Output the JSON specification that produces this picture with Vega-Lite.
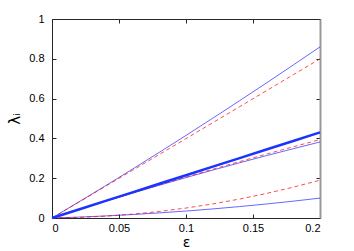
{
  "$schema": "https://vega.github.io/schema/vega-lite/v6.json",
  "width": 268,
  "height": 199,
  "autosize": {"type": "none"},
  "padding": {"left": 52, "top": 19, "right": 34, "bottom": 33},
  "background": "white",
  "config": {
    "view": {"stroke": null},
    "font": "Liberation Sans",
    "axis": {
      "grid": false,
      "domainColor": "#262626",
      "domainWidth": 1,
      "tickColor": "#262626",
      "tickSize": -4,
      "labelFont": "Liberation Sans",
      "labelFontSize": 11,
      "labelColor": "#000000",
      "titleFont": "DejaVu Sans",
      "titleFontWeight": "normal",
      "titleColor": "#000000"
    }
  },
  "data": {
    "values": [
      {"s": "A", "x": 0, "y": 0}, {"s": "A", "x": 0.02, "y": 0.0806}, {"s": "A", "x": 0.04, "y": 0.1624}, {"s": "A", "x": 0.06, "y": 0.2454}, {"s": "A", "x": 0.08, "y": 0.3296}, {"s": "A", "x": 0.1, "y": 0.415}, {"s": "A", "x": 0.12, "y": 0.5016}, {"s": "A", "x": 0.14, "y": 0.5894}, {"s": "A", "x": 0.16, "y": 0.6784}, {"s": "A", "x": 0.18, "y": 0.7686}, {"s": "A", "x": 0.2, "y": 0.86},
      {"s": "B", "x": 0, "y": 0}, {"s": "B", "x": 0.02, "y": 0.0796}, {"s": "B", "x": 0.04, "y": 0.1594}, {"s": "B", "x": 0.06, "y": 0.2392}, {"s": "B", "x": 0.08, "y": 0.319}, {"s": "B", "x": 0.1, "y": 0.399}, {"s": "B", "x": 0.12, "y": 0.479}, {"s": "B", "x": 0.14, "y": 0.5592}, {"s": "B", "x": 0.16, "y": 0.6394}, {"s": "B", "x": 0.18, "y": 0.7196}, {"s": "B", "x": 0.2, "y": 0.8},
      {"s": "C", "x": 0, "y": 0}, {"s": "C", "x": 0.02, "y": 0.043}, {"s": "C", "x": 0.04, "y": 0.086}, {"s": "C", "x": 0.06, "y": 0.129}, {"s": "C", "x": 0.08, "y": 0.172}, {"s": "C", "x": 0.1, "y": 0.215}, {"s": "C", "x": 0.12, "y": 0.258}, {"s": "C", "x": 0.14, "y": 0.301}, {"s": "C", "x": 0.16, "y": 0.344}, {"s": "C", "x": 0.18, "y": 0.387}, {"s": "C", "x": 0.2, "y": 0.43},
      {"s": "D", "x": 0, "y": 0}, {"s": "D", "x": 0.02, "y": 0.0425}, {"s": "D", "x": 0.04, "y": 0.0841}, {"s": "D", "x": 0.06, "y": 0.1247}, {"s": "D", "x": 0.08, "y": 0.1643}, {"s": "D", "x": 0.1, "y": 0.203}, {"s": "D", "x": 0.12, "y": 0.2407}, {"s": "D", "x": 0.14, "y": 0.2775}, {"s": "D", "x": 0.16, "y": 0.3133}, {"s": "D", "x": 0.18, "y": 0.3481}, {"s": "D", "x": 0.2, "y": 0.382},
      {"s": "E", "x": 0, "y": 0}, {"s": "E", "x": 0.02, "y": 0.0426}, {"s": "E", "x": 0.04, "y": 0.0846}, {"s": "E", "x": 0.06, "y": 0.1258}, {"s": "E", "x": 0.08, "y": 0.1662}, {"s": "E", "x": 0.1, "y": 0.206}, {"s": "E", "x": 0.12, "y": 0.245}, {"s": "E", "x": 0.14, "y": 0.2834}, {"s": "E", "x": 0.16, "y": 0.321}, {"s": "E", "x": 0.18, "y": 0.3578}, {"s": "E", "x": 0.2, "y": 0.394},
      {"s": "F", "x": 0, "y": 0}, {"s": "F", "x": 0.02, "y": 0.0028}, {"s": "F", "x": 0.04, "y": 0.0092}, {"s": "F", "x": 0.06, "y": 0.0192}, {"s": "F", "x": 0.08, "y": 0.0328}, {"s": "F", "x": 0.1, "y": 0.05}, {"s": "F", "x": 0.12, "y": 0.0708}, {"s": "F", "x": 0.14, "y": 0.0952}, {"s": "F", "x": 0.16, "y": 0.1232}, {"s": "F", "x": 0.18, "y": 0.1548}, {"s": "F", "x": 0.2, "y": 0.19},
      {"s": "G", "x": 0, "y": 0}, {"s": "G", "x": 0.02, "y": 0.0046}, {"s": "G", "x": 0.04, "y": 0.0104}, {"s": "G", "x": 0.06, "y": 0.0174}, {"s": "G", "x": 0.08, "y": 0.0256}, {"s": "G", "x": 0.1, "y": 0.035}, {"s": "G", "x": 0.12, "y": 0.0456}, {"s": "G", "x": 0.14, "y": 0.0574}, {"s": "G", "x": 0.16, "y": 0.0704}, {"s": "G", "x": 0.18, "y": 0.0846}, {"s": "G", "x": 0.2, "y": 0.1}
    ]
  },
  "layer": [
    {
      "transform": [{"filter": {"field": "s", "oneOf": ["A", "D", "G"]}}],
      "mark": {"type": "line", "color": "#0000ff", "strokeWidth": 0.6},
      "encoding": {
        "x": {"field": "x", "type": "quantitative", "scale": {"domain": [0, 0.2], "nice": false},
          "axis": {"orient": "bottom", "values": [0, 0.05, 0.1, 0.15, 0.2], "format": "~g", "labelPadding": 8, "title": "ε", "titleFontSize": 14, "titlePadding": 2}},
        "y": {"field": "y", "type": "quantitative", "scale": {"domain": [0, 1], "nice": false},
          "axis": {"orient": "left", "values": [0, 0.2, 0.4, 0.6, 0.8, 1], "format": "~g", "labelPadding": 12, "title": "λᵢ", "titleFontSize": 15, "titlePadding": 6}},
        "detail": {"field": "s"}
      }
    },
    {
      "transform": [{"filter": {"field": "s", "oneOf": ["B", "E", "F"]}}],
      "mark": {"type": "line", "color": "#ff0000", "strokeWidth": 0.7, "strokeDash": [4, 3]},
      "encoding": {
        "x": {"field": "x", "type": "quantitative", "axis": null},
        "y": {"field": "y", "type": "quantitative", "axis": null},
        "detail": {"field": "s"}
      }
    },
    {
      "transform": [{"filter": {"field": "s", "equal": "C"}}],
      "mark": {"type": "line", "color": "#1a33ff", "strokeWidth": 2.5},
      "encoding": {
        "x": {"field": "x", "type": "quantitative", "axis": null},
        "y": {"field": "y", "type": "quantitative", "axis": null}
      }
    },
    {
      "transform": [{"filter": {"field": "s", "equal": "C"}}],
      "mark": {"type": "line", "opacity": 0},
      "encoding": {
        "x": {"field": "x", "type": "quantitative",
          "axis": {"orient": "top", "values": [0, 0.05, 0.1, 0.15, 0.2], "labels": false, "title": null}},
        "y": {"field": "y", "type": "quantitative",
          "axis": {"orient": "right", "values": [0, 0.2, 0.4, 0.6, 0.8, 1], "labels": false, "title": null, "domainColor": "#999999", "domainWidth": 2}}
      }
    }
  ],
  "resolve": {"axis": {"x": "independent", "y": "independent"}}
}
